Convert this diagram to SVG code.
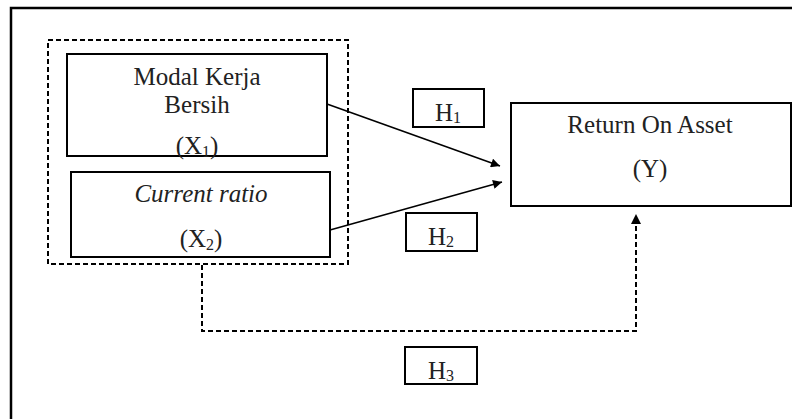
<svg xmlns="http://www.w3.org/2000/svg" width="792" height="419" viewBox="0 0 792 419" font-family="'Liberation Serif', 'Times New Roman', 'DejaVu Serif', serif">
<style>
text{font-family:'Liberation Serif','Times New Roman','DejaVu Serif',serif}
.t{font-size:25px;fill:#222;text-anchor:middle}
.s{font-size:16px}
.box{fill:#fff;stroke:#000;stroke-width:2}
.dash{fill:none;stroke:#000;stroke-width:2;stroke-dasharray:5,3}
.ln{fill:none;stroke:#000;stroke-width:1.6}
</style>
<defs>
<marker id="ah" viewBox="0 0 10 10" refX="10" refY="5" markerWidth="10" markerHeight="9" markerUnits="userSpaceOnUse" orient="auto">
<path d="M0,0 L10,5 L0,10 z" fill="#000"/>
</marker>
</defs>
<path d="M11,419 V8 H792" fill="none" stroke="#000" stroke-width="2.5"/>
<g id="group-x">
<rect class="dash" x="48" y="40" width="300" height="224"/>
</g>
<g id="x1">
<rect class="box" x="67" y="54" width="260" height="102"/>
<text class="t" x="197" y="85">Modal Kerja</text>
<text class="t" x="197" y="113">Bersih</text>
<text class="t" x="197" y="154">(X<tspan class="s" dy="3">1</tspan><tspan dy="-3">)</tspan></text>
</g>
<g id="x2">
<rect class="box" x="71" y="172" width="259" height="85"/>
<text class="t" x="201" y="202" font-style="italic">Current ratio</text>
<text class="t" x="201" y="247">(X<tspan class="s" dy="3">2</tspan><tspan dy="-3">)</tspan></text>
</g>
<g id="y">
<rect class="box" x="511" y="103" width="280" height="103"/>
<text class="t" x="650" y="133">Return On Asset</text>
<text class="t" x="650" y="177">(Y)</text>
</g>
<g id="h1">
<rect class="box" x="413" y="89" width="71" height="38"/>
<text class="t" x="448" y="121">H<tspan class="s" dy="2">1</tspan></text>
</g>
<g id="h2">
<rect class="box" x="406" y="213" width="71" height="38"/>
<text class="t" x="441" y="245">H<tspan class="s" dy="2">2</tspan></text>
</g>
<g id="h3">
<rect class="box" x="405" y="347" width="72" height="37"/>
<text class="t" x="441" y="379">H<tspan class="s" dy="2">3</tspan></text>
</g>
<g id="connectors">
<line class="ln" x1="327" y1="104" x2="500" y2="166" marker-end="url(#ah)"/>
<line class="ln" x1="330" y1="230" x2="502" y2="182" marker-end="url(#ah)"/>
<path class="dash" d="M202,265 V331 H636 V224"/>
<path d="M631,224 L636,214 L641,224 z" fill="#000"/>
</g>
</svg>
